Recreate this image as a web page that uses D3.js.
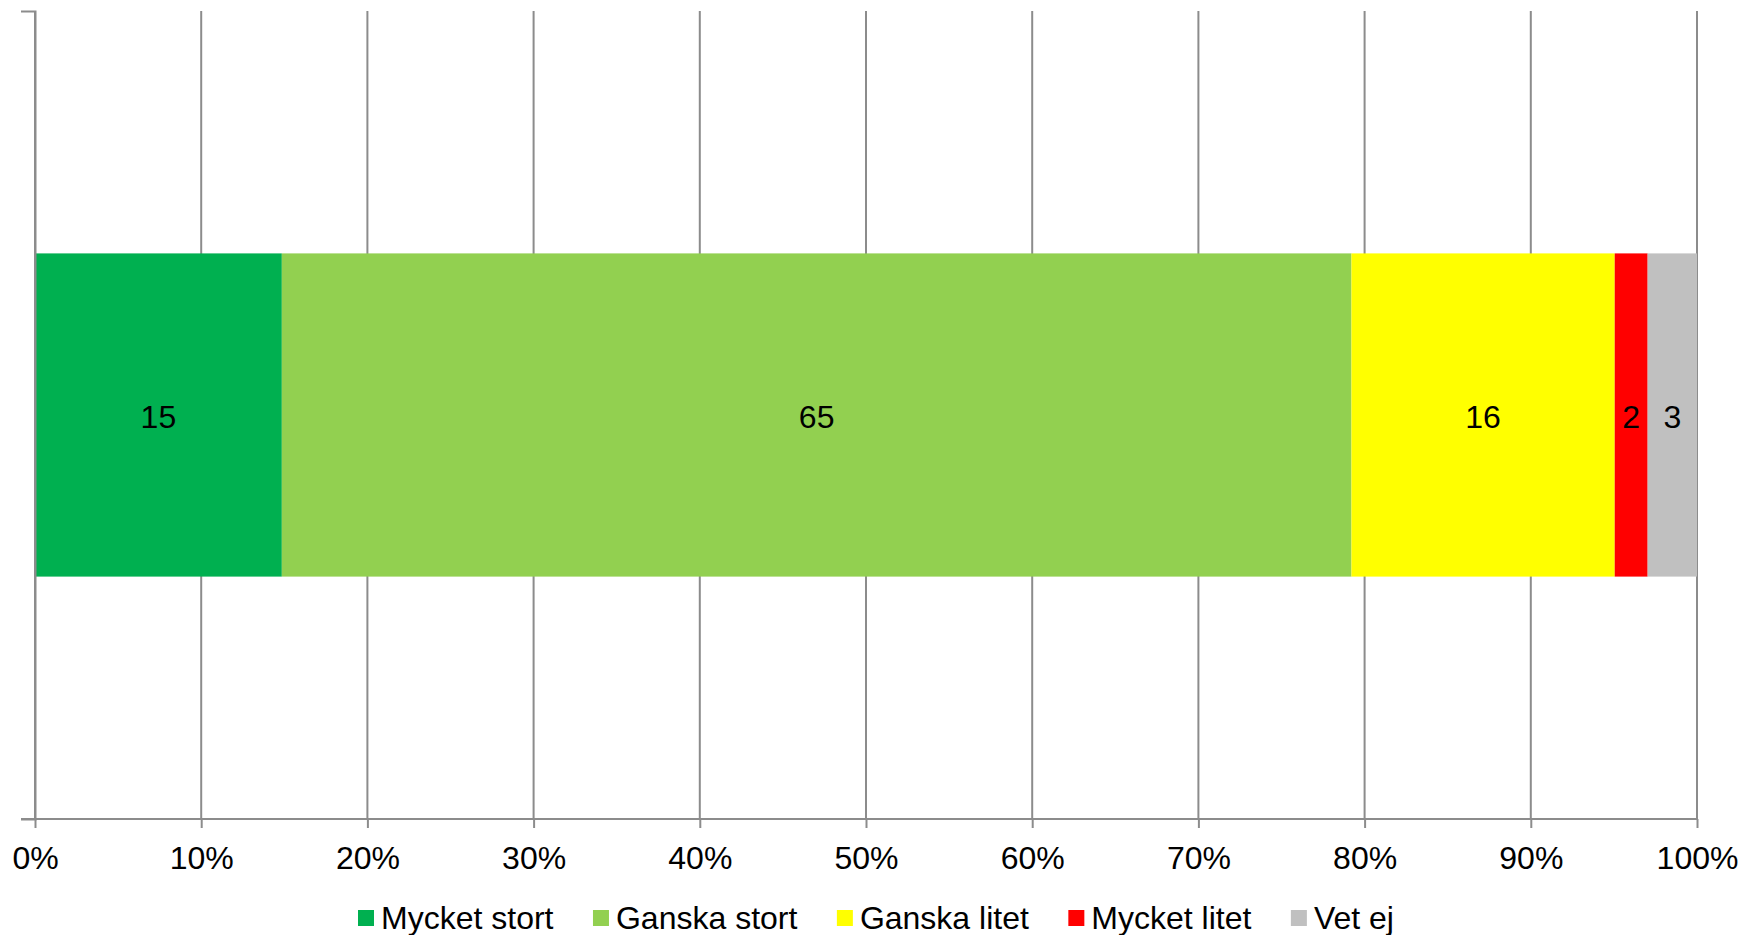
<!DOCTYPE html>
<html>
<head>
<meta charset="utf-8">
<script src="https://cdn.jsdelivr.net/npm/d3@7"></script>
<style>
  body { margin: 0; background: #fff; }
  text { font-family: "Liberation Sans", Arial, sans-serif; fill: #000; }
</style>
</head>
<body>
<svg id="chart" width="1743" height="935"></svg>
<script>
// data
const categories = ["Mycket stort", "Ganska stort", "Ganska litet", "Mycket litet", "Vet ej"];
const values = [15, 65, 16, 2, 3];
const colors = ["#00B050", "#92D050", "#FFFF00", "#FF0000", "#C0C0C0"];
const tickLabels = ["0%", "10%", "20%", "30%", "40%", "50%", "60%", "70%", "80%", "90%", "100%"];

const width = 1743;
const height = 935;
const margin = { top: 11, right: 46, bottom: 116, left: 35 };
const gridColor = "#8c8c8c";
const fontSize = "32px";

const svg = d3.select("#chart");
const g = svg.append("g").attr("transform", `translate(${margin.left},${margin.top})`);
const w = width - margin.left - margin.right;
const h = height - margin.top - margin.bottom;

// 100% stacked, so share of total
const total = d3.sum(values);
const stacked = [];
let acc = 0;
values.forEach((v, i) => {
  stacked.push({ key: categories[i], value: v, x0: acc / total, x1: (acc + v) / total, color: colors[i] });
  acc += v;
});

const x = d3.scaleLinear().domain([0, 1]).range([0, w]);
const y = d3.scaleBand().domain(["row"]).range([0, h]).paddingInner(0.6).paddingOuter(0.3);

// vertical gridlines
g.selectAll(".grid")
  .data(d3.range(0, 1.0001, 0.1))
  .enter()
  .append("line")
  .attr("x1", d => x(d))
  .attr("x2", d => x(d))
  .attr("y1", 0)
  .attr("y2", h)
  .style("stroke", gridColor)
  .style("stroke-width", 2);

// bar segments
g.selectAll(".seg")
  .data(stacked)
  .enter()
  .append("rect")
  .attr("x", d => x(d.x0))
  .attr("y", y("row"))
  .attr("width", d => x(d.x1) - x(d.x0))
  .attr("height", y.bandwidth())
  .style("fill", d => d.color);

g.selectAll(".lbl")
  .data(stacked)
  .enter()
  .append("text")
  .attr("x", d => (x(d.x0) + x(d.x1)) / 2)
  .attr("y", y("row") + y.bandwidth() / 2)
  .attr("dy", "0.4em")
  .style("text-anchor", "middle")
  .style("font-size", fontSize)
  .text(d => d.value);

// x axis
const xAxis = d3.axisBottom(x)
  .tickValues(d3.range(0, 1.0001, 0.1))
  .tickSize(9)
  .tickSizeOuter(0)
  .tickFormat((d, i) => tickLabels[i]);

const xg = g.append("g")
  .attr("transform", `translate(0,${h})`)
  .call(xAxis);
xg.select(".domain").remove();
xg.selectAll("line").style("stroke", gridColor).style("stroke-width", 2);
xg.selectAll("text")
  .attr("y", 27)
  .attr("dy", "0.71em")
  .style("font-size", fontSize)
  .style("font-family", "Liberation Sans, Arial, sans-serif")
  .style("fill", "#000");

// y axis with outer ticks at both ends
const yAxis = d3.axisLeft(y).tickValues([]).tickSizeOuter(14);
const yg = g.append("g").call(yAxis);
yg.select(".domain").style("stroke", gridColor).style("stroke-width", 2).style("fill", "none");

// horizontal base line of the category axis
g.append("line")
  .attr("x1", -14)
  .attr("x2", w)
  .attr("y1", h)
  .attr("y2", h)
  .style("stroke", gridColor)
  .style("stroke-width", 2);

// legend
const legend = svg.append("g").attr("transform", `translate(358, 918)`);
let lx = 0;
categories.forEach((c, i) => {
  const item = legend.append("g").attr("transform", `translate(${lx},0)`);
  item.append("rect")
    .attr("x", 0)
    .attr("y", -8)
    .attr("width", 16)
    .attr("height", 16)
    .style("fill", colors[i]);
  const t = item.append("text")
    .attr("x", 23)
    .attr("y", 0)
    .attr("dy", "0.35em")
    .style("font-size", fontSize)
    .text(c);
  lx += 23 + t.node().getComputedTextLength() + 39.5;
});
</script>
</body>
</html>
